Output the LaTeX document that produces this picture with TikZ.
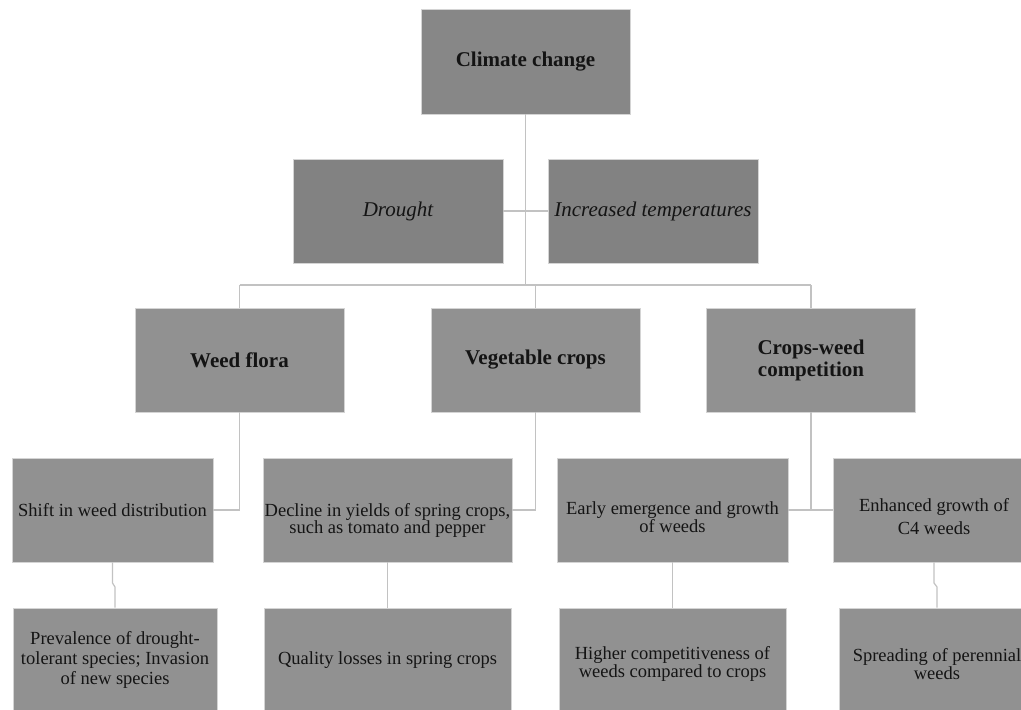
\documentclass[tikz,border=0pt]{standalone}
\usepackage{fontspec}
\setmainfont{Liberation Serif}
\definecolor{boxA}{gray}{0.53}
\definecolor{boxB}{gray}{0.51}
\definecolor{boxC}{gray}{0.57}
\definecolor{edgeC}{gray}{0.83}
\definecolor{connC}{gray}{0.76}
\definecolor{txtC}{gray}{0.08}
\newcommand{\dropby}[1]{\rule{0pt}{\dimexpr 17pt+2\dimexpr #1\relax\relax}}
\tikzset{
  box/.style={draw=edgeC, line width=0.8pt, inner sep=0pt, align=center, text=txtC, fill=boxC},
  boldbox/.style={box, font=\fontsize{21}{22}\selectfont\bfseries},
  itbox/.style={box, fill=boxB, font=\fontsize{21}{22}\selectfont\itshape},
  regbox/.style={box, font=\fontsize{18.5}{18}\selectfont},
  conn/.style={draw=connC, line width=1.2pt}
}
\begin{document}
\begin{tikzpicture}[x=1pt,y=-1pt]
\useasboundingbox (0,0) rectangle (1021,710);
\fill[white] (0,0) rectangle (1021,710);
\clip (0,0) rectangle (1021,710);
% level 1
\node[boldbox, fill=boxA, minimum width=209pt, minimum height=105pt] (cc) at (525.5,61.5) {Climate change};
% level 2
\node[itbox, minimum width=210pt, minimum height=104pt] (dr) at (398,211) {Drought};
\node[itbox, minimum width=210pt, minimum height=104pt] (it) at (653,211) {Increased temperatures};
% level 3
\node[boldbox, minimum width=209pt, minimum height=104pt] (wf) at (239.5,360) {Weed flora};
\node[boldbox, minimum width=209pt, minimum height=104pt] (vc) at (535.5,360) {Vegetable crops};
\node[boldbox, minimum width=209pt, minimum height=104pt] (cw) at (811,360) {Crops-weed\\competition};
% level 4
\node[regbox, minimum width=201pt, minimum height=104pt] (sh) at (112.5,510) {Shift in weed distribution};
\node[regbox, minimum width=249pt, minimum height=104pt, font=\fontsize{18.5}{17}\selectfont] (de) at (387.5,510) {\dropby{8pt}Decline in yields of spring crops,\\such as tomato and pepper};
\node[regbox, minimum width=231pt, minimum height=104pt] (ee) at (672.5,510) {\dropby{5pt}Early emergence and growth\\of weeds};
\node[regbox, minimum width=202pt, minimum height=104pt, font=\fontsize{18.5}{23}\selectfont] (en) at (934,510) {\dropby{5pt}Enhanced growth of\\C4 weeds};
% level 5
\node[regbox, minimum width=204pt, minimum height=104pt, font=\fontsize{18.5}{20}\selectfont] (pr) at (115,660) {Prevalence of drought-\\tolerant species; Invasion\\of new species};
\node[regbox, minimum width=247pt, minimum height=104pt] (ql) at (387.5,660) {Quality losses in spring crops};
\node[regbox, minimum width=227pt, minimum height=104pt] (hi) at (672.5,660) {\dropby{2pt}Higher competitiveness of\\weeds compared to crops};
\node[regbox, minimum width=196pt, minimum height=104pt] (sp) at (937,660) {\dropby{2pt}Spreading of perennial\\weeds};
% connectors
\coordinate (bus) at (0,285);
\coordinate (k1) at (0,583);
\coordinate (k2) at (0,587);
\draw[conn] (cc.south) -- (cc.south |- bus);
\draw[conn] (wf.north |- bus) -- (cw.north |- bus);
\draw[conn] (wf.north |- bus) -- (wf.north);
\draw[conn] (vc.north |- bus) -- (vc.north);
\draw[conn] (cw.north |- bus) -- (cw.north);
\draw[conn] (dr.east) -- (it.west);
\draw[conn] (wf.south) |- (sh.east);
\draw[conn] (vc.south) |- (de.east);
\draw[conn] (cw.south) -- (cw.south |- en.west);
\draw[conn] (ee.east) -- (en.west);
\draw[conn] (sh.south) -- (sh.south |- k1) -- (pr.north |- k2) -- (pr.north);
\draw[conn] (de.south) -- (ql.north);
\draw[conn] (ee.south) -- (hi.north);
\draw[conn] (en.south) -- (en.south |- k1) -- (sp.north |- k2) -- (sp.north);
\end{tikzpicture}
\end{document}
